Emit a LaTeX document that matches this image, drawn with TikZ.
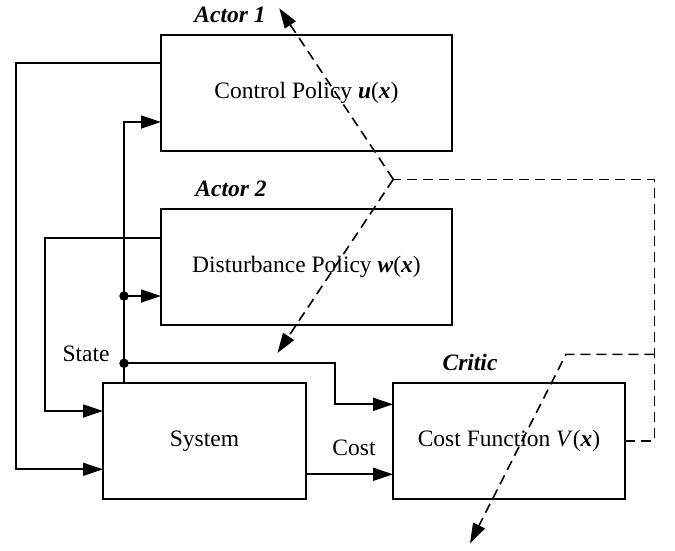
\documentclass[tikz,border=0pt]{standalone}
\usepackage{fontspec}
\setmainfont{Liberation Serif}
\usetikzlibrary{arrows.meta,calc}
\newcommand{\bivar}[1]{\textbf{\textit{#1}}}
\begin{document}
\begin{tikzpicture}[x=1pt,y=-1pt,
  line width=1.8pt,
  blk/.style={draw, line width=2pt, minimum width=#1, minimum height=116pt,
              inner sep=0pt, outer sep=0pt, font=\fontsize{23.5}{28}\selectfont},
  tip/.style={-{Triangle[length=20pt,width=13pt]}},
  dsh/.style={line width=1.6pt, dash pattern=on 10pt off 6pt},
  lbl/.style={font=\fontsize{23.5}{28}\selectfont\bfseries\itshape},
  txt/.style={font=\fontsize{23.5}{28}\selectfont},
  jdot/.style={circle, fill, inner sep=0pt, minimum size=9.5pt}]
\useasboundingbox (0,0) rectangle (675,550);

% blocks
\node[blk=291pt] (ctrl) at (306.5,92.7) {Control Policy \bivar{u}(\bivar{x})};
\node[blk=291pt] (dist) at (306.5,267) {Disturbance Policy \bivar{w}(\bivar{x})};
\node[blk=203pt] (sys)  at (204.5,441) {System};
\node[blk=232pt] (crit) at (509,441) {Cost Function \textit{V}(\bivar{x})};

% block titles
\node[lbl] (act1) at (230,15) {Actor 1};
\node[lbl] (act2) at (231,189) {Actor 2};
\node[lbl] (crt)  at (470,362) {Critic};
\node[txt] (st)   at (86,354) {State};
\node[txt] (cst)  at (354,448) {Cost};

% state junctions
\node[jdot] (j1) at (124,296) {};
\node[jdot] (j2) at (124,363.3) {};

% helper corners
\coordinate (c1)  at (16,63.3);
\coordinate (c1b) at (16,469.3);
\coordinate (d1)  at (45,237.7);
\coordinate (d1b) at (45,411);
\coordinate (sa)  at (124,122);
\coordinate (bend) at (335,404.3);
\coordinate (cy)  at (0,474.3);

% policy outputs into the system
\draw[tip] (ctrl.west |- c1) -- (c1) -- (c1b) -- (sys.west |- c1b);
\draw[tip] (dist.west |- d1) -- (d1) -- (d1b) -- (sys.west |- d1b);

% state feedback
\draw[tip] (sys.north -| j1.center) -- (sa) -- (ctrl.west |- sa);
\draw[tip] (j1.center) -- (dist.west |- j1.center);
\draw[tip] (j2.center) -| (bend) -- (crit.west |- bend);

% cost signal
\draw[tip] (sys.east |- cy) -- (crit.west |- cy);

% critic tuning paths
\coordinate (k)  at (393.3,179.3);
\coordinate (a1) at (279.3,8.3);
\coordinate (a2) at (277.5,353);
\coordinate (r1) at (654.3,179.3);
\coordinate (b1) at (654.3,354.3);
\coordinate (b2) at (566,354.3);
\coordinate (a3) at (470,543.3);

\draw[dsh] (crit.east) -- (crit.east -| r1) -- (r1) -- (k);
\draw[dsh,tip] (k) -- (a1);
\draw[dsh,tip] (k) -- (a2);
\draw[dsh,tip] (b1) -- (b2) -- (a3);
\end{tikzpicture}
\end{document}
